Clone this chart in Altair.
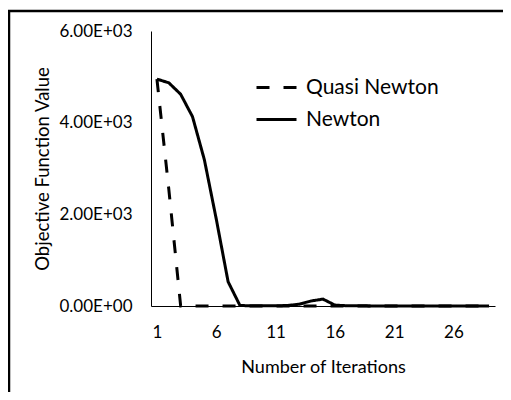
import altair as alt
import pandas as pd

iterations = list(range(1, 30))
newton = [4950, 4870, 4620, 4130, 3190, 1900, 530, 10, 5, 5, 5, 10, 40, 110, 150,
          20, 5, 5, 2, 2, 2, 2, 2, 2, 2, 2, 2, 2, 2]
quasi = [4950, 2550, 0, 0, 0, 0, 0, 0, 0, 0, 0, 0, 0, 0, 0,
         0, 0, 0, 0, 0, 0, 0, 0, 0, 0, 0, 0, 0, 0]
series = ["Quasi Newton", "Newton"]
x_ticks = [1, 6, 11, 16, 21, 26]
y_ticks = [0, 2000, 4000, 6000]

rows = []
for s, vals in zip(series, [quasi, newton]):
    for i, v in zip(iterations, vals):
        rows.append({"Iteration": i, "Value": v, "Series": s})
df = pd.DataFrame(rows)

FONT = "Lato"

x_scale = alt.Scale(domain=[0.5, 29.5], nice=False, zero=False)

lines = alt.Chart(df).mark_line(color="black", strokeWidth=3).encode(
    x=alt.X("Iteration:Q", scale=x_scale,
            axis=alt.Axis(values=x_ticks, title="Number of Iterations", grid=False,
                          ticks=False, labelPadding=18, labelFontSize=17,
                          labelFont=FONT, labelColor="black", domainColor="black",
                          titleFont=FONT, titleFontSize=18, titleFontWeight="normal",
                          titleColor="black", titleX=172, titleY=61,
                          titleBaseline="middle")),
    y=alt.Y("Value:Q",
            scale=alt.Scale(domain=[0, 6000], nice=False),
            axis=alt.Axis(values=y_ticks, title="Objective Function Value", grid=False,
                          ticks=False, labelPadding=19, labelFontSize=17,
                          labelFont=FONT, labelColor="black", domainColor="black",
                          labelExpr="datum.value == 0 ? '0.00E+00' : format(datum.value/1000, '.2f') + 'E+03'",
                          titleFont=FONT, titleFontSize=18.5, titleFontWeight="normal",
                          titleColor="black", titleX=-109, titleY=137.5,
                          titleBaseline="middle")),
    strokeDash=alt.StrokeDash("Series:N",
                              scale=alt.Scale(domain=series, range=[[13, 14], [1, 0]]),
                              legend=alt.Legend(title=None, orient="none", legendX=104,
                                                legendY=35, symbolType="stroke",
                                                symbolSize=1600, symbolStrokeWidth=3,
                                                symbolStrokeColor="black",
                                                labelFont=FONT, labelFontSize=21,
                                                labelColor="black", labelOffset=8,
                                                rowPadding=-10)),
    order=alt.Order("Iteration:Q"),
)

# outer frame (decoration): left edge and top edge of the chart box
frame_df = pd.DataFrame({"a": [0]})
frame_left = alt.Chart(frame_df).mark_rule(color="black", strokeWidth=2.5).encode(
    x=alt.value(-142), y=alt.value(-20), y2=alt.value(400))
frame_top = alt.Chart(frame_df).mark_rule(color="black", strokeWidth=2.5).encode(
    x=alt.datum(-11.6), x2=alt.datum(31.0), y=alt.value(-20))

chart = alt.layer(frame_left, frame_top, lines).properties(
    width=344, height=275,
    autosize=alt.AutoSizeParams(type="none"),
    padding={"left": 143, "top": 23, "right": 8, "bottom": 86},
).configure_view(stroke=None)

chart.save("out.html", embed_options={"renderer": "svg", "actions": False})
